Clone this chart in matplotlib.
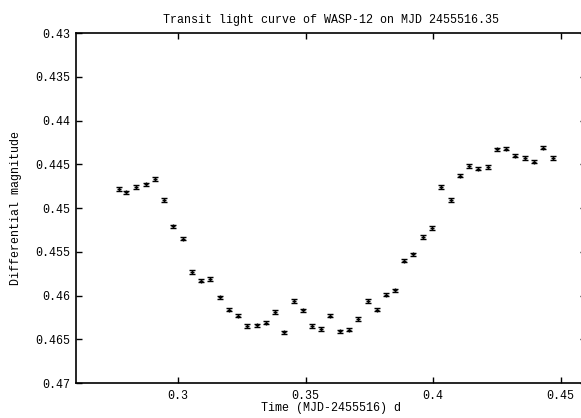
import matplotlib
matplotlib.use("Agg")
import matplotlib.pyplot as plt
from matplotlib.ticker import FormatStrFormatter, MultipleLocator

time = [0.2769, 0.2795, 0.2836, 0.2873, 0.2908, 0.2945, 0.2982, 0.3018,
        0.3055, 0.3090, 0.3127, 0.3164, 0.3199, 0.3235, 0.3271, 0.3308,
        0.3344, 0.3380, 0.3417, 0.3454, 0.3489, 0.3526, 0.3561, 0.3598,
        0.3635, 0.3672, 0.3707, 0.3744, 0.3779, 0.3816, 0.3851, 0.3888,
        0.3923, 0.3960, 0.3997, 0.4032, 0.4069, 0.4105, 0.4142, 0.4178,
        0.4214, 0.4250, 0.4286, 0.4323, 0.4360, 0.4395, 0.4432, 0.4469]
mag = [0.4478, 0.4482, 0.4476, 0.4473, 0.4467, 0.4491, 0.4521, 0.4535,
       0.4573, 0.4583, 0.4581, 0.4602, 0.4616, 0.4623, 0.4635, 0.4634,
       0.4631, 0.4619, 0.4642, 0.4606, 0.4617, 0.4635, 0.4638, 0.4623,
       0.4641, 0.4639, 0.4627, 0.4606, 0.4616, 0.4599, 0.4594, 0.4560,
       0.4553, 0.4533, 0.4523, 0.4476, 0.4491, 0.4463, 0.4452, 0.4455,
       0.4453, 0.4433, 0.4432, 0.4440, 0.4443, 0.4447, 0.4431, 0.4443]
err = [0.00025] + [0.0002] * 47

FS = 8.4
plt.rcParams['font.family'] = ['Liberation Mono', 'DejaVu Sans Mono']
plt.rcParams['font.size'] = FS

fig = plt.figure(figsize=(5.81, 4.18), dpi=100)
ax = fig.add_axes([76 / 581, 1 - 383 / 418, (586 - 76) / 581, (383 - 33) / 418])

ax.errorbar(time, mag, yerr=err, fmt='+', color='black', ecolor='black',
            markersize=3, mew=1.0, elinewidth=1.0, capsize=2, capthick=1.0)

ax.set_xlim(0.26, 0.46)
ax.set_ylim(0.47, 0.43)
ax.xaxis.set_major_locator(MultipleLocator(0.05))
ax.yaxis.set_major_locator(MultipleLocator(0.005))
ax.xaxis.set_major_formatter(FormatStrFormatter('%g'))
ax.yaxis.set_major_formatter(FormatStrFormatter('%g'))
ax.tick_params(direction='in', top=True, right=True, length=4, width=1,
               labelsize=FS)
ax.tick_params(axis='x', pad=5)
ax.tick_params(axis='y', pad=4)
for s in ax.spines.values():
    s.set_linewidth(1.2)

ax.set_title('Transit light curve of WASP-12 on MJD 2455516.35', pad=7, fontsize=FS)
ax.set_xlabel('Time (MJD-2455516) d', labelpad=0)
ax.set_ylabel('Differential magnitude', labelpad=10)

fig.savefig('out.png', dpi=100)
